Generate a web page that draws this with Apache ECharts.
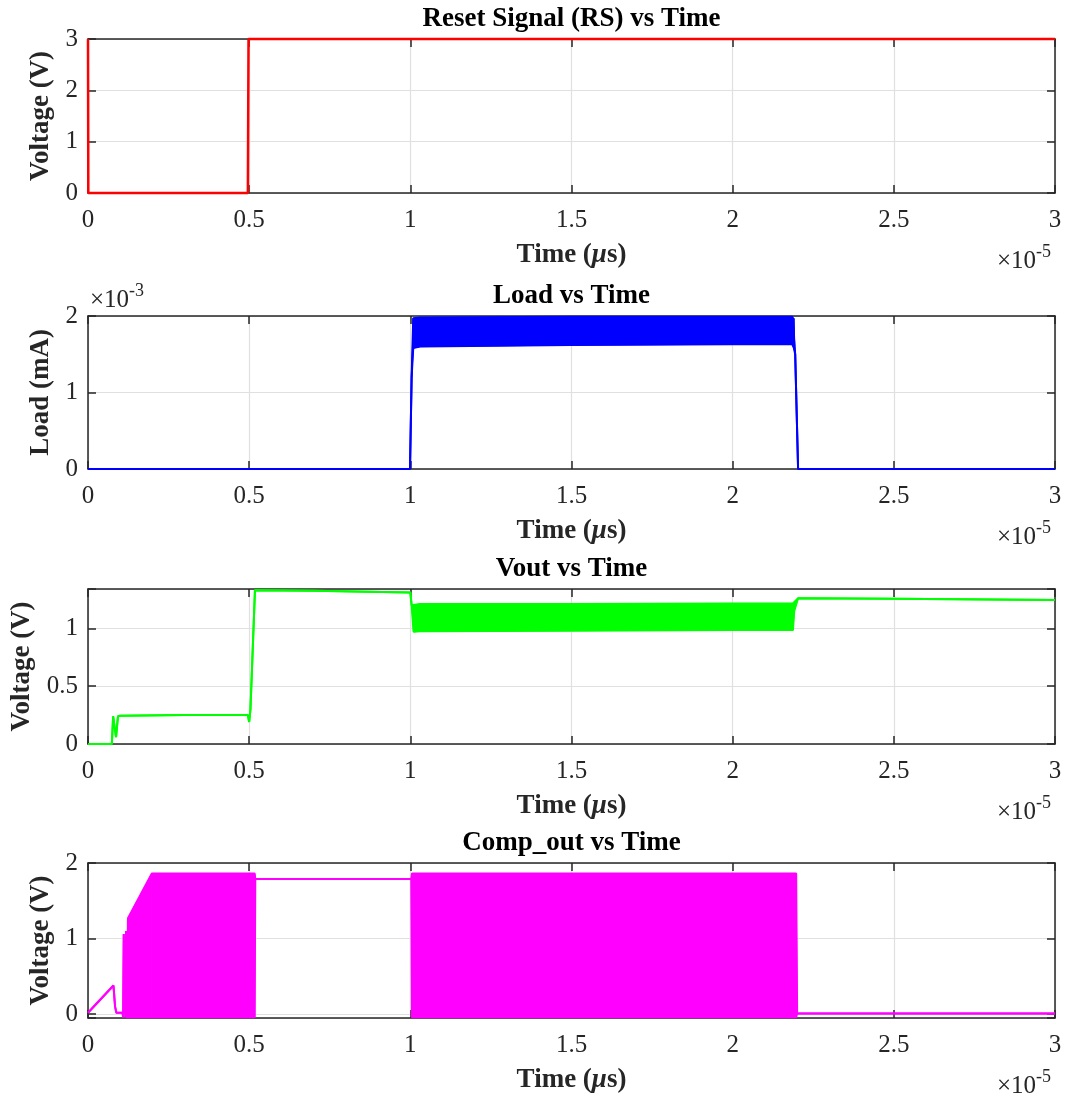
<!DOCTYPE html>
<html>
<head>
<meta charset="utf-8">
<script src="https://cdn.jsdelivr.net/npm/echarts@6/dist/echarts.min.js"></script>
<style>
  html, body { margin: 0; padding: 0; background: #fff; }
  #main { width: 1066px; height: 1099px; }
</style>
</head>
<body>
<div id="main"></div>
<script>
// 时间轴 (x 1e-5 s)
var xTicks = [0, 0.5, 1, 1.5, 2, 2.5, 3];

// Reset Signal
var rsTime = [0, 0.001, 0.496, 0.498, 3];
var rsVolt = [3, 0, 0, 3, 3];

// Load (x 1e-3 mA), 振荡段用上下包络
var loadTime = [0, 0.999, 1.004, 1.009, 1.03, 1.5, 2.0, 2.185, 2.19, 2.194, 2.203, 3];
var loadLow  = [0, 0, 1.2, 1.58, 1.6, 1.62, 1.63, 1.63, 1.58, 1.5, 0, 0];
var loadHigh = [0, 0, 1.2, 1.97, 1.98, 1.99, 1.99, 1.99, 1.97, 1.5, 0, 0];

// Vout
var voutTime = [0, 0.074, 0.078, 0.087, 0.093, 0.1, 0.3, 0.496, 0.5, 0.504, 0.518, 0.7, 1.0, 1.004, 1.01, 1.03, 1.5, 2.0, 2.187, 2.191, 2.203, 2.5, 3];
var voutLow  = [0, 0, 0.24, 0.06, 0.24, 0.245, 0.25, 0.25, 0.19, 0.3, 1.33, 1.325, 1.31, 1.2, 0.97, 0.975, 0.98, 0.985, 0.985, 1.15, 1.26, 1.255, 1.245];
var voutHigh = [0, 0, 0.24, 0.06, 0.24, 0.245, 0.25, 0.25, 0.19, 0.3, 1.33, 1.325, 1.31, 1.2, 1.2, 1.21, 1.21, 1.215, 1.215, 1.22, 1.26, 1.255, 1.245];

// Comp_out
var compTime = [0, 0.079, 0.084, 0.088, 0.107, 0.109, 0.111, 0.113, 0.116, 0.118, 0.12, 0.124, 0.198, 0.517, 0.519, 1.003, 1.005, 2.197, 2.2, 3];
var compLow  = [0.02, 0.38, 0.1, 0.02, 0.02, -0.04, 1.06, 1.06, -0.04, 1.1, -0.04, -0.04, -0.04, -0.04, 1.79, 1.79, -0.04, -0.04, 0.01, 0.01];
var compHigh = [0.02, 0.38, 0.1, 0.02, 0.02, -0.04, 1.06, 1.06, -0.04, 1.1, -0.04, 1.27, 1.86, 1.86, 1.79, 1.79, 1.86, 1.86, 0.01, 0.01];

var font = 'Liberation Serif';
var axisColor = '#262626';
var gridColor = '#e0e0e0';

// 四个子图的位置
var gridTops = [39, 316, 589, 863];
var gridHeights = [154, 153, 155, 155];
var gridLeft = 88, gridWidth = 967;

function pairs(xs, ys) {
  return xs.map(function (x, i) { return [x, ys[i]]; });
}

function xAxes(i) {
  var bottom = {
    gridIndex: i, type: 'value', position: 'bottom',
    min: 0, max: 3, interval: 0.5,
    axisLine: { show: true, onZero: false, lineStyle: { color: axisColor, width: 1.5 } },
    axisTick: { show: true, inside: true, length: 8, lineStyle: { color: axisColor, width: 1.5 } },
    axisLabel: { color: axisColor, fontFamily: font, fontSize: 25, margin: 15, showMinLabel: true, showMaxLabel: true },
    splitLine: { show: true, lineStyle: { color: gridColor, width: 1.2 } },
    name: 'Time ({i|μ}s)', nameLocation: 'middle', nameGap: 49,
    nameTextStyle: {
      color: axisColor, fontFamily: font, fontSize: 27, fontWeight: 'bold',
      rich: { i: { fontFamily: font, fontSize: 27, fontStyle: 'italic', color: axisColor } }
    }
  };
  var top = {
    gridIndex: i, type: 'value', position: 'top',
    min: 0, max: 3, interval: 0.5,
    axisLine: { show: true, onZero: false, lineStyle: { color: axisColor, width: 1.5 } },
    axisTick: { show: true, inside: true, length: 8, lineStyle: { color: axisColor, width: 1.5 } },
    axisLabel: { show: false },
    splitLine: { show: false }
  };
  return [bottom, top];
}

function yAxes(i, min, max, step, name, gap) {
  var fmt = function (v) {
    var k = v / step;
    return Math.abs(k - Math.round(k)) < 1e-6 ? String(+v.toFixed(3)) : '';
  };
  var left = {
    gridIndex: i, type: 'value', position: 'left',
    min: min, max: max, minInterval: step, maxInterval: step,
    axisLine: { show: true, onZero: false, lineStyle: { color: axisColor, width: 1.5 } },
    axisTick: { show: true, inside: true, length: 8, lineStyle: { color: axisColor, width: 1.5 } },
    axisLabel: { color: axisColor, fontFamily: font, fontSize: 25, margin: 10, formatter: fmt, showMinLabel: true, showMaxLabel: true },
    splitLine: { show: true, lineStyle: { color: gridColor, width: 1.2 } },
    name: name, nameLocation: 'middle', nameGap: gap,
    nameTextStyle: { color: axisColor, fontFamily: font, fontSize: 27, fontWeight: 'bold' }
  };
  var right = {
    gridIndex: i, type: 'value', position: 'right',
    min: min, max: max, minInterval: step, maxInterval: step,
    axisLine: { show: true, onZero: false, lineStyle: { color: axisColor, width: 1.5 } },
    axisTick: { show: true, inside: true, length: 8, lineStyle: { color: axisColor, width: 1.5 } },
    axisLabel: { show: false },
    splitLine: { show: false }
  };
  return [left, right];
}

// 单条曲线
function lineSeries(i, data, color, width) {
  return {
    type: 'line', xAxisIndex: 2 * i, yAxisIndex: 2 * i,
    data: data, showSymbol: false, symbol: 'none', clip: false,
    lineStyle: { color: color, width: width || 2 }, itemStyle: { color: color }
  };
}

// 振荡带：上下包络两条线 + 中间填充（custom 多边形）
function bandSeries(i, time, lo, hi, color) {
  var rows = [];
  for (var k = 0; k < time.length - 1; k++) {
    if (hi[k] === lo[k] && hi[k + 1] === lo[k + 1]) continue;
    rows.push([time[k], time[k + 1], lo[k], lo[k + 1], hi[k], hi[k + 1]]);
  }
  var fill = {
    type: 'custom', xAxisIndex: 2 * i, yAxisIndex: 2 * i, clip: false,
    data: rows,
    encode: { x: [0, 1], y: [2, 3, 4, 5] },
    renderItem: function (params, api) {
      var pts = [
        api.coord([api.value(0), api.value(2)]),
        api.coord([api.value(1), api.value(3)]),
        api.coord([api.value(1), api.value(5)]),
        api.coord([api.value(0), api.value(4)])
      ];
      return { type: 'polygon', shape: { points: pts }, style: { fill: color, stroke: color, lineWidth: 1 } };
    }
  };
  return [lineSeries(i, pairs(time, lo), color), lineSeries(i, pairs(time, hi), color), fill];
}

var titles = ['Reset Signal (RS) vs Time', 'Load vs Time', 'Vout vs Time', 'Comp_out vs Time'];

var graphics = [];
titles.forEach(function (t, i) {
  graphics.push({
    type: 'text', x: gridLeft + gridWidth / 2, y: gridTops[i] - 20,
    style: { text: t, fontFamily: font, fontSize: 27, fontWeight: 'bold', fill: '#000', align: 'center', verticalAlign: 'middle' }
  });
  // x 轴指数
  var by = gridTops[i] + gridHeights[i];
  graphics.push({
    type: 'text', x: 1036, y: by + 68,
    style: { text: '×10', fontFamily: font, fontSize: 25, fill: axisColor, align: 'right', verticalAlign: 'middle' }
  });
  graphics.push({
    type: 'text', x: 1036, y: by + 59,
    style: { text: '-5', fontFamily: font, fontSize: 18, fill: axisColor, align: 'left', verticalAlign: 'middle' }
  });
});
// Load 的 y 轴指数
graphics.push({
  type: 'text', x: 90, y: gridTops[1] - 16,
  style: { text: '×10', fontFamily: font, fontSize: 25, fill: axisColor, align: 'left', verticalAlign: 'middle' }
});
graphics.push({
  type: 'text', x: 129, y: gridTops[1] - 25,
  style: { text: '-3', fontFamily: font, fontSize: 18, fill: axisColor, align: 'left', verticalAlign: 'middle' }
});

var grids = gridTops.map(function (t, i) {
  return { left: gridLeft, top: t, width: gridWidth, height: gridHeights[i], containLabel: false };
});

var xAxis = [].concat(xAxes(0), xAxes(1), xAxes(2), xAxes(3));
var yAxis = [].concat(
  yAxes(0, 0, 3, 1, 'Voltage (V)', 26),
  yAxes(1, 0, 2, 1, 'Load (mA)', 26),
  yAxes(2, 0, 1.34, 0.5, 'Voltage (V)', 41),
  yAxes(3, -0.05, 2, 1, 'Voltage (V)', 26)
);

var series = [lineSeries(0, pairs(rsTime, rsVolt), '#ff0000', 2.5)]
  .concat(bandSeries(1, loadTime, loadLow, loadHigh, '#0000ff'))
  .concat(bandSeries(2, voutTime, voutLow, voutHigh, '#00ff00'))
  .concat(bandSeries(3, compTime, compLow, compHigh, '#ff00ff'));

var myChart = echarts.init(document.getElementById('main'), null, { renderer: 'canvas' });
myChart.setOption({
  animation: false,
  backgroundColor: '#fff',
  grid: grids,
  xAxis: xAxis,
  yAxis: yAxis,
  series: series,
  graphic: graphics
});
</script>
</body>
</html>
